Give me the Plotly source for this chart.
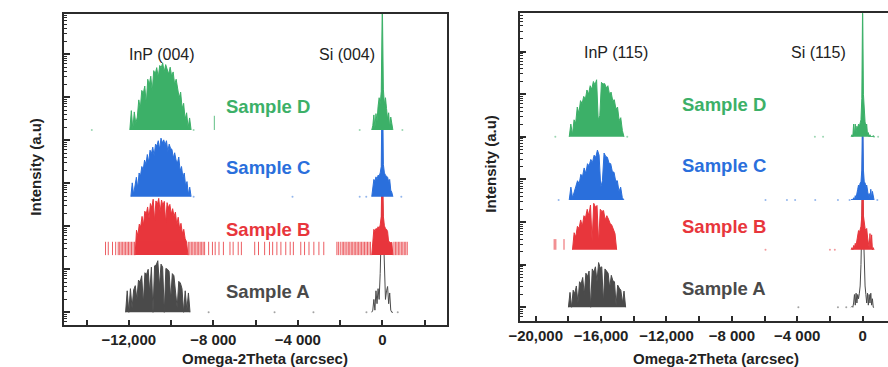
import numpy as np
import plotly.graph_objects as go

# ---------------- data (log10 intensity, decades above each sample's baseline) -------------
SAMPLES = ["Sample A", "Sample B", "Sample C", "Sample D"]
COLORS = ["#4a4a4a", "#e8363c", "#2a6fdc", "#3cb068"]
SI_FILLED = [False, True, True, True]

# stacking offsets (decades) of each sample baseline
OFFSETS_004 = [0.0, 1.33, 2.69, 4.24]
OFFSETS_115 = [0.0, 1.35, 2.52, 4.00]

# ---- panel (004) ----
INP004_SPAN = [(-12150, -9100), (-11700, -9200), (-11900, -9050), (-11950, -9050)]
INP004_A = [0, 0.5, 0, 0.55, 0.1, 0.52, 0.62, 0.3, 0.75, 0.7, 0.85, 0.2, 0.92, 0.88, 1.0, 0.45,
            1.05, 0.0, 1.08, 1.1, 1.2, 0.6, 1.12, 1.05, 0.0, 1.02, 1.0, 0.95, 0.3, 0.9, 0.85, 0.4,
            0.1, 0.72, 0.68, 0.55, 0, 0.5, 0.05, 0.45, 0]
INP004_B = [0, 0.58, 0.45, 0.72, 0.66, 0.9, 0.7, 1.02, 0.95, 1.12, 0.85, 1.2, 1.1, 1.3, 0.8, 1.26,
            1.18, 1.32, 1.0, 1.28, 1.15, 1.25, 0.75, 1.22, 1.1, 1.18, 0.95, 1.08, 0.9, 1.0, 0.7,
            0.88, 0.62, 0.74, 0.5, 0.6, 0.38, 0.31, 0]
INP004_C = [0, 0.32, 0.05, 0.28, 0.45, 0.2, 0.55, 0.48, 0.7, 0.62, 0.85, 0.75, 0.98, 0.8, 1.08,
            1.0, 1.15, 0.95, 1.22, 1.18, 1.3, 1.1, 1.36, 1.25, 1.32, 1.2, 1.3, 1.05, 1.22, 1.12,
            1.1, 0.9, 1.02, 0.85, 0.78, 0.92, 0.6, 0.7, 0.45, 0.55, 0.25, 0.35, 0.05, 0.22, 0]
INP004_D = [0, 0.45, 0.02, 0.42, 0.15, 0.3, 0.7, 0.5, 0.92, 0.85, 1.02, 0.6, 1.18, 1.05, 1.25, 0.9,
            1.38, 1.3, 1.45, 1.22, 1.5, 1.45, 1.56, 1.35, 1.52, 1.42, 1.3, 1.46, 1.25, 1.35, 1.05,
            1.18, 0.95, 0.75, 0.88, 0.5, 0.62, 0.25, 0.4, 0.05, 0.28, 0]
SI004_SPAN = (-500, 500)
SI004_A = [0, 0.05, 0.3, 0.05, 0.5, 0.2, 0.55, 0.3, 0.9, 1.9, 2.9, 1.9, 0.9, 0.3, 0.5, 0.6, 0.2, 0.45, 0.05, 0, 0]
SI004_B = [0, 0.3, 0.6, 0.55, 0.62, 0.6, 0.66, 0.62, 0.7, 0.9, 2.67, 0.9, 0.68, 0.62, 0.6, 0.55, 0.3, 0.31, 0.28, 0.3, 0]
SI004_C = [0, 0.15, 0.4, 0.35, 0.46, 0.4, 0.5, 0.48, 0.55, 0.7, 3.18, 0.75, 0.55, 0.5, 0.48, 0.45, 0.35, 0.4, 0.15, 0.1, 0]
SI004_D = [0, 0.1, 0.35, 0.05, 0.38, 0.2, 0.55, 0.75, 0.6, 0.9, 3.0, 0.95, 0.6, 0.75, 0.5, 0.25, 0.4, 0.05, 0.3, 0.1, 0]
# isolated count strokes (x positions) and their height
STROKES004_X = [
    [],
    [-13100, -12970, -12770, -12620, -12500, -12430, -12360, -12290, -12220, -12150, -12080,
     -12010, -11940, -11870, -11800, -11730, -9180, -9110, -9040, -8970, -8900, -8830, -8760,
     -8690, -8620, -8550, -8480, -8410, -8220, -8040, -7910, -7730, -7520, -7210, -7060, -6820,
     -6670, -6040, -5860, -5570, -5340, -5190, -4990, -4800, -4570, -4360, -4210, -3860, -3680,
     -3470, -3240, -3000, -2770, -2150, -2080, -1990, -1900, -1830, -1760, -1680, -1610, -1540,
     -1470, -1400, -1330, -1260, -1190, -1120, -1050, -980, -910, -840, -770, -700, -630, -560,
     550, 620, 690, 760, 830, 900, 970, 1040, 1110, 1180],
    [],
    [-7950],
]
STROKES004_H = [0.0, 0.31, 0.0, 0.33]
DOTS004_X = [[-8220, -5100, -3260, -750, 730], [], [-8930, -4250, -1070, -760, 900],
             [-13750, -8930, -1070, 950]]

# ---- panel (115) ----
INP115_SPAN = [(-18000, -14500), (-17750, -15050), (-17950, -14600), (-17950, -14600)]
INP115_A = [0, 0.35, 0, 0.4, 0.32, 0.5, 0.1, 0.6, 0.55, 0.7, 0.3, 0.8, 0.72, 0.85, 0.0, 0.9,
            0.82, 0.95, 0.6, 1.05, 0.92, 0.95, 0.1, 0.9, 0.85, 0.8, 0.45, 0.75, 0.62, 0.6, 0.05,
            0.52, 0.45, 0.4, 0.1, 0.38, 0]
INP115_B = [0, 0.4, 0.3, 0.55, 0.5, 0.7, 0.55, 0.8, 0.76, 0.95, 0.8, 1.05, 0.2, 1.09, 1.0, 1.04,
            0.15, 0.95, 0.9, 0.92, 0.7, 0.8, 0.72, 0.62, 0.58, 0.5, 0.38, 0]
INP115_C = [0, 0.3, 0.05, 0.22, 0.32, 0.45, 0.38, 0.6, 0.55, 0.75, 0.62, 0.85, 0.8, 0.95, 0.88,
            1.05, 1.0, 1.17, 1.05, 0.3, 0.45, 1.1, 1.02, 1.0, 0.86, 0.85, 0.66, 0.65, 0.44, 0.45,
            0.2, 0.3, 0.05, 0]
INP115_D = [0, 0.3, 0.05, 0.4, 0.32, 0.7, 0.55, 0.85, 0.78, 0.95, 0.88, 1.1, 1.0, 1.2, 1.12, 1.3,
            1.22, 1.34, 0.4, 0.5, 1.28, 1.24, 1.25, 1.15, 1.2, 1.0, 1.05, 0.85, 0.87, 0.65, 0.7,
            0.38, 0.45, 0.15, 0]
SI115_SPAN = (-700, 700)
SI115_A = [0, 0.02, 0, 0.1, 0.3, 0.05, 0.33, 0.1, 0.3, 0.2, 0.33, 0.5, 1.0, 1.8, 3.0, 1.8, 1.0, 0.5,
           0.3, 0.1, 0.33, 0.05, 0.3, 0.1, 0.33, 0.05, 0.2, 0, 0]
SI115_B = [0, 0.05, 0, 0.1, 0.05, 0.15, 0.1, 0.25, 0.35, 0.45, 0.4, 0.5, 0.55, 0.8, 2.65, 0.8, 0.55,
           0.5, 0.45, 0.5, 0.3, 0.1, 0.05, 0.38, 0.05, 0.35, 0, 0.05, 0]
SI115_C = [0, 0.02, 0, 0.05, 0, 0.1, 0.05, 0.2, 0.25, 0.35, 0.3, 0.4, 0.42, 0.7, 2.38, 0.7, 0.42,
           0.4, 0.3, 0.35, 0.2, 0.1, 0.15, 0.05, 0.25, 0.05, 0.2, 0.02, 0]
SI115_D = [0, 0.05, 0, 0.3, 0.05, 0.3, 0.1, 0.25, 0.2, 0.3, 0.25, 0.35, 0.4, 0.9, 3.2, 1.0, 0.45,
           0.35, 0.25, 0.3, 0.05, 0.1, 0, 0.05, 0, 0.02, 0, 0.03, 0]
STROKES115_X = [[], [-18870, -18770, -18270], [], []]
STROKES115_H = [0.0, 0.25, 0.0, 0.0]
DOTS115_X = [[-3930, -1510, -1000], [-5940, -2000, -1700],
             [-18600, -5940, -4630, -4130, -2900, -1510, -800, 900],
             [-18800, -14400, -2920, -2420, 700, 950]]

X_TICKS_004 = [-12000, -8000, -4000, 0]
X_TICKTEXT_004 = ["\u221212,000", "\u22128 000", "\u22124 000", "0"]
X_TICKS_115 = [-20000, -16000, -12000, -8000, -4000, 0]
X_TICKTEXT_115 = ["\u221220,000", "\u221216,000", "\u221212,000", "\u22128 000", "\u22124 000", "0"]
PEAK_LABELS_004 = [("InP (004)", -10420), ("Si (004)", -1680)]
PEAK_LABELS_115 = [("InP (115)", -15060), ("Si (115)", -2720)]

FONT = "Liberation Sans, Arial, sans-serif"

fig = go.Figure()


def add_panel(xa, ya, offsets, inp_span, inp_vals, si_span, si_vals, strokes_x, strokes_h, dots_x):
    for i in range(4):
        base = offsets[i]
        col = COLORS[i]
        for (x0, x1), vals, filled in ((inp_span[i], inp_vals[i], True),
                                       (si_span, si_vals[i], SI_FILLED[i])):
            xs = np.linspace(x0, x1, len(vals))
            ys = base + np.array(vals, dtype=float)
            fig.add_trace(go.Scatter(
                x=xs, y=ys, mode="lines", line=dict(color=col, width=1),
                fill="toself" if filled else None, fillcolor=col,
                xaxis=xa, yaxis=ya, hoverinfo="skip", showlegend=False))
        if strokes_x[i]:
            sx, sy = [], []
            for x in strokes_x[i]:
                sx += [x, x, None]
                sy += [base, base + strokes_h[i], None]
            fig.add_trace(go.Scatter(x=sx, y=sy, mode="lines", line=dict(color=col, width=1),
                                     opacity=0.8, xaxis=xa, yaxis=ya, hoverinfo="skip",
                                     showlegend=False))
        if dots_x[i]:
            fig.add_trace(go.Scatter(x=dots_x[i], y=[base] * len(dots_x[i]), mode="markers",
                                     marker=dict(color=col, size=2), opacity=0.5,
                                     xaxis=xa, yaxis=ya, hoverinfo="skip", showlegend=False))


add_panel("x", "y", OFFSETS_004, INP004_SPAN, [INP004_A, INP004_B, INP004_C, INP004_D],
          SI004_SPAN, [SI004_A, SI004_B, SI004_C, SI004_D], STROKES004_X, STROKES004_H, DOTS004_X)
add_panel("x2", "y2", OFFSETS_115, INP115_SPAN, [INP115_A, INP115_B, INP115_C, INP115_D],
          SI115_SPAN, [SI115_A, SI115_B, SI115_C, SI115_D], STROKES115_X, STROKES115_H, DOTS115_X)

W, H = 888, 367
minor_y = [np.log10(k) + n for n in range(-1, 7) for k in range(2, 10)]

axis_common = dict(showgrid=False, zeroline=False, showline=True, linecolor="#2b2b2b",
                   linewidth=1.8, ticks="inside", tickcolor="#2b2b2b")

fig.update_layout(
    width=W, height=H, margin=dict(l=0, r=0, t=0, b=0),
    paper_bgcolor="white", plot_bgcolor="white",
    font=dict(family=FONT, color="#222"),
    xaxis=dict(domain=[54 / W, 441 / W], range=[-15050, 3040], mirror=True,
               tickvals=X_TICKS_004, ticktext=X_TICKTEXT_004, ticklen=5, tickwidth=1.5,
               tickfont=dict(size=15, weight="bold", color="#222"),
               minor=dict(tickvals=[-14000, -10000, -6000, -2000, 2000], ticks="inside",
                          ticklen=5, tickwidth=1.5, tickcolor="#2b2b2b"),
               anchor="y", **axis_common),
    yaxis=dict(domain=[1 - 325 / H, 1 - 14 / H], range=[-0.295, 6.937], mirror=True,
               tickvals=list(range(0, 7)), showticklabels=False, ticklen=6, tickwidth=1.5,
               minor=dict(tickvals=minor_y, ticks="inside", ticklen=3, tickwidth=1,
                          tickcolor="#2b2b2b"),
               anchor="x", **axis_common),
    xaxis2=dict(domain=[515 / W, 1.0], range=[-20985, 1553], mirror=True,
                tickvals=X_TICKS_115, ticktext=X_TICKTEXT_115, ticklen=5, tickwidth=1.5,
                tickfont=dict(size=15, weight="bold", color="#222"),
                minor=dict(tickvals=[-18000, -14000, -10000, -6000, -2000], ticks="inside",
                           ticklen=5, tickwidth=1.5, tickcolor="#2b2b2b"),
                anchor="y2", **axis_common),
    yaxis2=dict(domain=[1 - 320.7 / H, 1 - 13.3 / H], range=[-0.315, 6.90], mirror=False,
                tickvals=list(range(0, 7)), showticklabels=False, ticklen=6, tickwidth=1.5,
                minor=dict(tickvals=minor_y, ticks="inside", ticklen=3, tickwidth=1,
                           tickcolor="#2b2b2b"),
                anchor="x2", **axis_common),
)

ann = []
# sample labels
for xa, ya, xpos, offs_y in (("x", "y", -5390, [0.48, 1.93, 3.36, 4.78]),
                             ("x2", "y2", -8460, [0.45, 1.89, 3.32, 4.77])):
    for i, name in enumerate(SAMPLES):
        ann.append(dict(x=xpos, y=offs_y[i], xref=xa, yref=ya, text="<b>%s</b>" % name,
                        showarrow=False, xanchor="center", yanchor="middle",
                        font=dict(size=18.5, color=COLORS[i], family=FONT)))
for xa, ya, labels, yv in (("x", "y", PEAK_LABELS_004, 6.0), ("x2", "y2", PEAK_LABELS_115, 5.98)):
    for txt, xv in labels:
        ann.append(dict(x=xv, y=yv, xref=xa, yref=ya, text=txt, showarrow=False,
                        xanchor="center", yanchor="middle",
                        font=dict(size=16, color="#222", family=FONT)))
# axis titles
for px in (256.7, 714):
    ann.append(dict(x=px / W, y=1 - 358 / H, xref="paper", yref="paper",
                    xanchor="center", yanchor="middle",
                    text="<b>Omega-2Theta (arcsec)</b>", showarrow=False,
                    font=dict(size=15, color="#222", family=FONT)))
for px, py in ((25, 167), (485.7, 164)):
    ann.append(dict(x=px / W, y=1 - py / H, xref="paper", yref="paper",
                    xanchor="center", yanchor="middle",
                    text="<b>Intensity (a.u)</b>", showarrow=False, textangle=-90,
                    font=dict(size=15, color="#222", family=FONT)))
fig.update_layout(annotations=ann)

fig.write_html("out.html", config={"displayModeBar": False},
               post_script="document.body.style.margin='0px';")
